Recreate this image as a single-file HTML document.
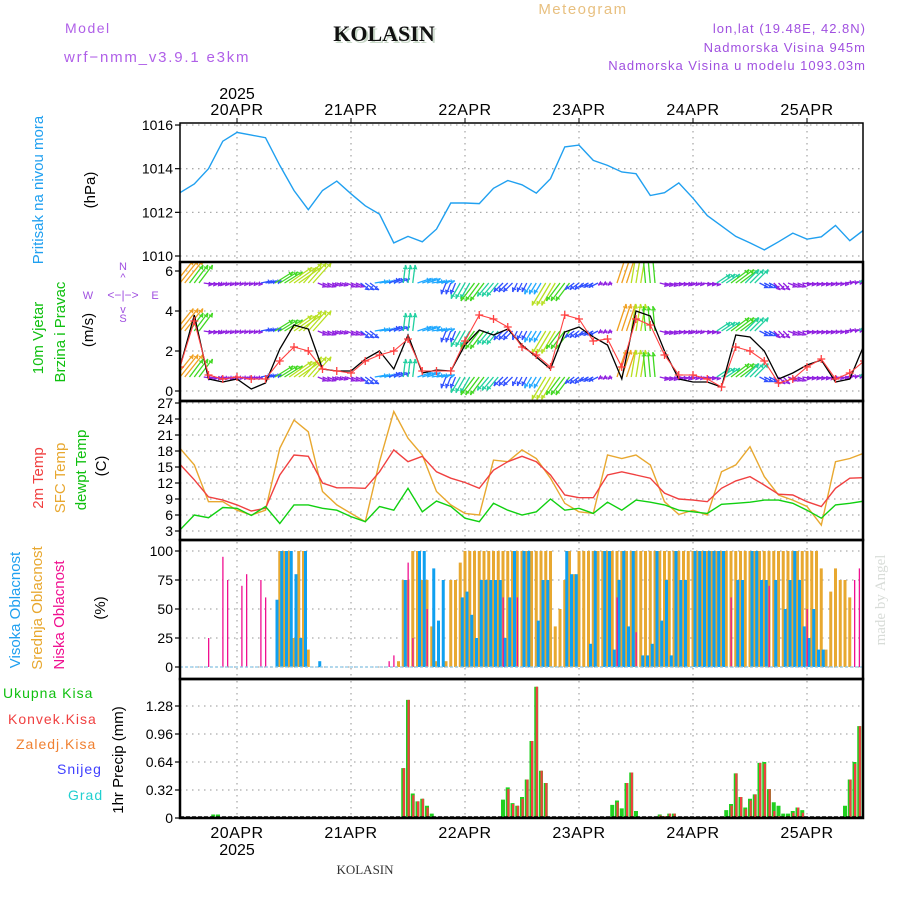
<!DOCTYPE html>
<html><head><meta charset="utf-8"><title>Meteogram KOLASIN</title>
<style>
html,body{margin:0;padding:0;background:#fff;}
#wrap{position:relative;width:900px;height:900px;overflow:hidden;font-family:"Liberation Sans",sans-serif;}
svg text{font-family:"Liberation Sans",sans-serif;}
</style></head>
<body>
<div id="wrap">
<svg id="chart" width="900" height="900" viewBox="0 0 900 900" xmlns="http://www.w3.org/2000/svg">
<defs>
<clipPath id="cp1"><rect x="180" y="123" width="683" height="139"/></clipPath>
<clipPath id="cp2"><rect x="180" y="262" width="683" height="139"/></clipPath>
<clipPath id="cp3"><rect x="180" y="401" width="683" height="139"/></clipPath>
<clipPath id="cp4"><rect x="180" y="540" width="683" height="139"/></clipPath>
<clipPath id="cp5"><rect x="180" y="679" width="683" height="139"/></clipPath>
</defs>
<text x="65" y="33" font-size="14" fill="#b060e8" letter-spacing="1.5">Model</text>
<text x="64" y="62" font-size="15" fill="#b060e8" letter-spacing="1.8">wrf−nmm_v3.9.1 e3km</text>
<text x="386" y="43" font-size="22" font-weight="bold" text-anchor="middle" fill="#c8d8c8" style="font-family:'Liberation Serif',serif">KOLASIN</text>
<text x="384" y="41" font-size="22" font-weight="bold" text-anchor="middle" fill="#111" style="font-family:'Liberation Serif',serif">KOLASIN</text>
<text x="583" y="14" font-size="15" fill="#e8c080" text-anchor="middle" letter-spacing="1.5">Meteogram</text>
<text x="866" y="33" font-size="13" fill="#a050e0" text-anchor="end" letter-spacing="1">lon,lat (19.48E, 42.8N)</text>
<text x="866" y="52" font-size="13" fill="#a050e0" text-anchor="end" letter-spacing="1">Nadmorska Visina 945m</text>
<text x="866" y="70" font-size="13" fill="#a050e0" text-anchor="end" letter-spacing="1">Nadmorska Visina u modelu 1093.03m</text>
<text transform="translate(43,190) rotate(-90)" font-size="15" fill="#20a0f0" text-anchor="middle">Pritisak na nivou mora</text>
<text transform="translate(95,190) rotate(-90)" font-size="15" fill="#000" text-anchor="middle">(hPa)</text>
<text transform="translate(43,338) rotate(-90)" font-size="15" fill="#10c010" text-anchor="middle">10m Vjetar</text>
<text transform="translate(65,332) rotate(-90)" font-size="15" fill="#10c010" text-anchor="middle">Brzina i Pravac</text>
<text transform="translate(93,330) rotate(-90)" font-size="15" fill="#000" text-anchor="middle">(m/s)</text>
<g fill="#a050e0" font-size="11" text-anchor="middle">
<text x="123" y="270">N</text><text x="123" y="281">^</text><text x="123" y="299" font-size="12">&lt;−|−&gt;</text>
<text x="88" y="299">W</text><text x="155" y="299">E</text><text x="123" y="313">v</text><text x="123" y="322">S</text>
</g>
<text transform="translate(43,478) rotate(-90)" font-size="15" fill="#f04040" text-anchor="middle">2m Temp</text>
<text transform="translate(65,478) rotate(-90)" font-size="15" fill="#e8a830" text-anchor="middle">SFC Temp</text>
<text transform="translate(86,470) rotate(-90)" font-size="15" fill="#10c010" text-anchor="middle">dewpt Temp</text>
<text transform="translate(106,466) rotate(-90)" font-size="15" fill="#000" text-anchor="middle">(C)</text>
<text transform="translate(20,610) rotate(-90)" font-size="15" fill="#20a0f0" text-anchor="middle">Visoka Oblacnost</text>
<text transform="translate(42,608) rotate(-90)" font-size="15" fill="#e8a830" text-anchor="middle">Srednja Oblacnost</text>
<text transform="translate(64,615) rotate(-90)" font-size="15" fill="#f01090" text-anchor="middle">Niska Oblacnost</text>
<text transform="translate(105,608) rotate(-90)" font-size="15" fill="#000" text-anchor="middle">(%)</text>
<g font-size="14" letter-spacing="1">
<text x="3" y="698" fill="#10c010">Ukupna Kisa</text>
<text x="8" y="724" fill="#f04040">Konvek.Kisa</text>
<text x="16" y="749" fill="#f08030">Zaledj.Kisa</text>
<text x="57" y="774" fill="#4040ff">Snijeg</text>
<text x="68" y="800" fill="#20d0d0">Grad</text>
</g>
<text transform="translate(123,760) rotate(-90)" font-size="15" fill="#000" text-anchor="middle">1hr Precip (mm)</text>
<text transform="translate(885,600) rotate(-90)" font-size="15" fill="#d8dcd8" text-anchor="middle" style="font-family:'Liberation Serif',serif">made by Angel</text>
<text x="365" y="874" font-size="13" fill="#333" text-anchor="middle" style="font-family:'Liberation Serif',serif">KOLASIN</text>
<g id="grid"></g>
<g id="marks"></g>
<g id="frames"></g>
<g id="labels"></g>
</svg>
</div>
<script>
const dayLabels = ["20APR","21APR","22APR","23APR","24APR","25APR"];
const yearLabel = "2025";
const pressTicks = [1010,1012,1014,1016];
const windTicks = [0,2,4,6];
const tempTicks = [3,6,9,12,15,18,21,24,27];
const cloudTicks = [0,25,50,75,100];
const precipTicks = [0,0.32,0.64,0.96,1.28];
const pressure = [1012.9,1013.3,1014.0,1015.26,1015.66,1015.54,1015.42,1014.15,1013.0,1012.12,1013.0,1013.43,1012.85,1012.3,1011.92,1010.6,1010.9,1010.65,1011.23,1012.43,1012.43,1012.4,1013.1,1013.46,1013.26,1012.88,1013.54,1015.0,1015.08,1014.38,1014.15,1013.85,1013.77,1012.77,1012.9,1013.35,1012.65,1011.85,1011.38,1010.9,1010.6,1010.28,1010.65,1011.05,1010.77,1010.88,1011.4,1010.7,1011.2];
const windSpeed = [1.2,3.8,0.6,0.45,0.6,0.1,0.4,2.1,3.3,3.1,1.1,1.0,1.0,1.6,2.0,1.1,2.8,0.9,1.05,1.0,2.3,3.05,2.8,3.1,2.3,1.7,1.1,2.95,3.2,2.7,2.3,0.6,4.0,3.75,2.0,0.6,0.45,0.45,0.2,2.8,2.7,2.0,0.6,0.9,1.3,1.55,0.45,0.6,2.3];
const windGust = [1.2,3.5,0.8,0.6,0.7,0.6,0.6,1.5,2.2,2.0,1.1,1.0,0.9,1.5,1.8,2.0,2.6,1.0,1.0,1.0,2.5,3.8,3.6,3.2,2.2,1.8,1.2,3.8,3.6,2.5,2.6,1.2,3.6,3.3,1.8,0.8,0.8,0.6,0.2,2.2,2.0,1.5,0.4,0.6,1.2,1.6,0.6,0.9,1.5];
const windU = [4,3,2,1.5,1.5,1.5,2.5,4,5,4,2,1.5,2,2,3,2.5,0.5,3,3,-1,-2,-3,-2.5,-2,-1,-1.5,-3,-3,-2,-2,-1,2,1,-0.5,2,2,1.5,2,3,4,3,2,1.5,2,2,2,2,2,3];
const windV = [5,4,-0.3,-0.3,-0.2,-0.2,0.5,2.5,3.5,4.5,-0.8,-0.5,-0.8,-1.5,0.5,1,4,1,0.5,-2.5,-3.5,-4,-3,-2,-2,-2.5,-5,-4,-1.5,-1,-0.5,6,6,5.5,-0.5,-0.3,-0.3,-0.3,2,3,3,-1,-1.5,-0.8,-0.3,-0.3,-0.2,0.3,3];
const temp2m = [15.5,12.6,9.4,8.8,7.9,6.75,7.25,13.5,17.25,17,12,11.1,11.1,11,14.1,18.2,16,17,14.1,12.9,12.1,11,14.4,16,17,16,13.5,9.75,9.25,9.25,13.5,14.1,13.5,12.9,10.1,9,8.8,8.5,11,12.4,13.2,11.6,9.9,9.75,8.5,7.6,11,12.9,13];
const tempSfc = [18.5,15.4,8.5,8.5,6.9,6,6.9,18.5,23.8,21.6,10.4,7.9,6.3,4.75,16,25.4,20.4,17.25,10.4,7.9,6.3,6,16.3,16,18.2,16.6,12.9,8.2,6.6,6.3,17.25,16.6,17.25,15.4,8.5,6.1,6.9,6,14.1,15.4,18.8,13.2,9.75,8.8,7.6,4.1,16,16.6,17.6];
const dewpt = [3.2,6,5.5,7.4,7.25,5.9,7.6,4.4,7.9,7.9,7.25,6.9,5.7,4.75,7.6,6.9,11,6.6,8.6,7.6,5.4,4.75,8.2,6.9,6,6.6,9,6.9,7.25,6.3,8.4,6.9,8.8,8.4,7.9,6.9,6.6,6.3,8,8.2,8.4,8.8,8.8,8.2,6.9,5.4,7.9,8.2,8.6];
const midCloud = [0,0,0,0,0,0,0,0,0,0,0,0,0,0,0,0,0,0,0,0,0,100,100,100,25,100,100,15,0,0,0,0,0,0,0,0,0,0,0,0,0,0,0,0,0,0,5,75,75,100,100,75,75,35,5,0,5,75,75,90,100,100,100,100,100,100,100,100,100,100,100,100,100,100,100,100,100,100,100,35,50,75,100,80,100,100,100,100,100,100,100,100,100,100,100,100,100,100,100,100,100,100,100,100,100,100,100,100,100,100,100,100,100,100,100,100,100,100,100,100,100,100,100,100,100,100,100,100,100,100,100,100,100,100,100,85,15,65,85,75,75,60,0,0,75];
const highCloud = [0,0,0,0,0,0,0,0,0,0,0,0,0,0,0,0,0,0,0,0,58,100,100,100,80,25,100,0,0,5,0,0,0,0,0,0,0,0,0,0,0,0,0,0,0,0,0,75,0,0,100,100,0,85,40,75,0,0,0,60,65,45,25,75,75,75,75,75,25,60,100,0,100,100,0,40,75,75,0,0,0,100,80,80,0,0,20,100,0,100,100,15,75,100,35,100,0,10,10,20,100,40,75,10,100,75,75,0,100,100,100,100,100,100,100,0,0,75,75,0,100,100,75,75,0,75,0,50,75,100,75,35,25,50,15,15,0,0,0,0,0,0,0,0,0];
const lowHours = [6,9,10,13,14,17,18,44,45,48,49,52,68,71,92,96,116,124,132,142,143];
const lowCloud = [25,95,75,70,80,75,60,5,10,90,25,50,60,60,60,30,60,70,50,75,85];
const rainHours = [7,8,9,47,48,49,50,51,52,53,68,69,70,71,72,73,74,75,76,77,91,92,93,94,95,96,97,100,101,102,103,104,115,116,117,118,119,120,121,122,123,124,125,126,127,128,129,130,131,140,141,142,143,144,145];
const rainTotal = [0.04,0.04,0.01,0.57,1.35,0.28,0.19,0.22,0.14,0.05,0.21,0.35,0.17,0.14,0.24,0.44,0.88,1.50,0.54,0.40,0.15,0.20,0.11,0.40,0.52,0.08,0.01,0.01,0.04,0.02,0.05,0.05,0.09,0.16,0.51,0.24,0.12,0.22,0.27,0.63,0.64,0.33,0.18,0.14,0.05,0.05,0.08,0.12,0.09,0.14,0.44,0.64,1.05,0.69,0.17];
const rainConv = [0,0,0,0.57,1.35,0.26,0.19,0.22,0.12,0,0,0.33,0.16,0.14,0.22,0.44,0.88,1.50,0.54,0.40,0,0.18,0,0.40,0.52,0,0.01,0,0.03,0.02,0.05,0.05,0,0.14,0.51,0.24,0.1,0.2,0.27,0.63,0.62,0.33,0.08,0.02,0,0.02,0.06,0.12,0.06,0,0.44,0.62,1.05,0.69,0.17];

const X0 = 180, X1 = 863, PXH = 4.75;
function xh(i){ return X0 + PXH*i; }
function dayX(d){ return xh(12 + 24*d); }
function yP(v){ return 256 - (v-1010)*21.83; }
function yW(v){ return 391 - v*20; }
function yT(v){ return 531 - (v-3)*5.333; }
function yC(v){ return 667 - v*1.16; }
function yR(v){ return 818 - v*87.5; }
const panels = [{top:123,bot:262,y:yP,ticks:pressTicks,fmt:v=>String(v),name:'pressure'},
  {top:262,bot:401,y:yW,ticks:windTicks,fmt:v=>String(v),name:'wind'},
  {top:401,bot:540,y:yT,ticks:tempTicks,fmt:v=>String(v),name:'temperature'},
  {top:540,bot:679,y:yC,ticks:cloudTicks,fmt:v=>String(v),name:'cloud'},
  {top:679,bot:818,y:yR,ticks:precipTicks,fmt:v=>v===0?'0':v.toFixed(2),name:'precip'}];

const NS='http://www.w3.org/2000/svg';
function mk(tag, attrs, parent){ const e=document.createElementNS(NS,tag); for(const k in attrs) e.setAttribute(k,attrs[k]); parent.appendChild(e); return e; }
const grid=document.getElementById('grid'), marks=document.getElementById('marks'), frames=document.getElementById('frames'), labels=document.getElementById('labels');

panels.forEach((p,pi)=>{
  const g=mk('g',{},grid);
  
  
  p.ticks.forEach(t=>{
    const y=p.y(t);
    if(y>p.top+2 && y<p.bot-2){
      const l=mk('line',{x1:X0,x2:X1,y1:y,y2:y,stroke:'#aaa','stroke-width':1.3,'stroke-dasharray':'1.5,4.5'},g);
      
      
    }
    const tk=mk('line',{x1:X0-5,x2:X0,y1:y,y2:y,stroke:'#000','stroke-width':1.2},labels);
    
    
    const tx=mk('text',{x:X0-7,y:y+5,'font-size':14,'text-anchor':'end',fill:'#000'},labels);
    tx.textContent=p.fmt(t);
    
    
  });
  dayLabels.forEach((d,di)=>{
    const x=dayX(di);
    const l=mk('line',{x1:x,x2:x,y1:p.top+2,y2:p.bot-2,stroke:'#aaa','stroke-width':1.3,'stroke-dasharray':'1.5,4.5'},g);
    
    
  });
  const r=mk('rect',{x:X0,y:p.top,width:X1-X0,height:p.bot-p.top,fill:'none',stroke:'#000','stroke-width':pi===0?1.5:2.5},frames);
  
  
});
dayLabels.forEach((d,di)=>{
  const x=dayX(di);
  const t1=mk('text',{x:x,y:115,'font-size':16,'text-anchor':'middle',fill:'#000','letter-spacing':'0.5'},labels);
  t1.textContent=d;
  
  
  const t2=mk('text',{x:x,y:838,'font-size':16,'text-anchor':'middle',fill:'#000','letter-spacing':'0.5'},labels);
  t2.textContent=d;
  
  
  const tk=mk('line',{x1:x,x2:x,y1:118,y2:123,stroke:'#000','stroke-width':1},labels);
  
  
});
const y1=mk('text',{x:dayX(0),y:99,'font-size':16,'text-anchor':'middle',fill:'#000'},labels);
y1.textContent=yearLabel;


const y2=mk('text',{x:dayX(0),y:855,'font-size':16,'text-anchor':'middle',fill:'#000'},labels);
y2.textContent=yearLabel;



function line(arr, yf, color, clip, name, w){
  const pts=arr.map((v,k)=>xh(3*k).toFixed(1)+','+yf(v).toFixed(1)).join(' ');
  const pl=mk('polyline',{points:pts,fill:'none',stroke:color,'stroke-width':w||1.4,'clip-path':'url(#'+clip+')'},marks);
  
  
}
line(pressure,yP,'#20a0f0','cp1','pressure-line');
function spdColor(s){
  if(s<2.2) return '#9020e0'; if(s<2.9) return '#3050ff'; if(s<3.6) return '#20a8ff';
  if(s<4.6) return '#20d0a0'; if(s<5.6) return '#40d820'; if(s<6.3) return '#b8e020'; return '#f0a020';
}
const wg=mk('g',{'clip-path':'url(#cp2)'},marks);


[283,331,377].forEach(by=>{
  windU.forEach((u,k)=>{
    const v=windV[k], s=Math.hypot(u,v), c=spdColor(s);
    for(let j=0;j<3;j++){
      const x=xh(3*k+j-1), ex=x+u*4.5, ey=by-v*4.5;
      const a=mk('line',{x1:x,y1:by,x2:ex,y2:ey,stroke:c,'stroke-width':1.3},wg);
      
      
      const ang=Math.atan2(ey-by,ex-x);
      const hp=[ex+','+ey,(ex-4*Math.cos(ang-0.5))+','+(ey-4*Math.sin(ang-0.5)),(ex-4*Math.cos(ang+0.5))+','+(ey-4*Math.sin(ang+0.5))].join(' ');
      const h=mk('polyline',{points:hp,fill:'none',stroke:c,'stroke-width':1.2},wg);
      
      
    }
  });
});
line(windSpeed,yW,'#000','cp2','wind-speed-line',1.3);
line(windGust,yW,'#ff4040','cp2','wind-gust-line',1.1);
windGust.forEach((v,k)=>{
  const x=xh(3*k), y=yW(v);
  const m=mk('path',{d:`M${x-4},${y}H${x+4}M${x},${y-4}V${y+4}`,stroke:'#ff4040','stroke-width':1.3,'clip-path':'url(#cp2)'},marks);
  
  
});
line(tempSfc,yT,'#e8a830','cp3','sfc-temp-line');
line(temp2m,yT,'#f04040','cp3','temp-2m-line');
line(dewpt,yT,'#10d010','cp3','dewpoint-line');
midCloud.forEach((v,i)=>{
  if(v<=0) return;
  const r=mk('rect',{x:xh(i)-1.5,y:yC(v),width:3,height:yC(0)-yC(v),fill:'#e8a830','clip-path':'url(#cp4)'},marks);
  
  
});
highCloud.forEach((v,i)=>{
  if(v<=0) return;
  const r=mk('rect',{x:xh(i)+0.5,y:yC(v),width:3,height:yC(0)-yC(v),fill:'#10a0f0','clip-path':'url(#cp4)'},marks);
  
  
});
lowHours.forEach((h,k)=>{
  const v=lowCloud[k];
  const r=mk('rect',{x:xh(h)-0.5,y:yC(v),width:1.3,height:yC(0)-yC(v),fill:'#f01090','clip-path':'url(#cp4)'},marks);
  
  
});
const base=mk('line',{x1:X0,x2:X1,y1:yC(0),y2:yC(0),stroke:'#8cc8e8','stroke-width':1.3,'stroke-dasharray':'3,2'},marks);


rainHours.forEach((h,k)=>{
  const v=rainTotal[k];
  const r=mk('rect',{x:xh(h)-2,y:yR(v),width:4,height:yR(0)-yR(v),fill:'#20d020','clip-path':'url(#cp5)'},marks);
  
  
  const c=rainConv[k];
  if(c>0){
    const r2=mk('rect',{x:xh(h)-0.5,y:yR(c),width:2.2,height:yR(0)-yR(c),fill:'#f04040','clip-path':'url(#cp5)'},marks);
    
    
  }
});
const pb=mk('line',{x1:X0,x2:X1,y1:yR(0)-1,y2:yR(0)-1,stroke:'#000','stroke-width':1.5,'stroke-dasharray':'4,2'},marks);


</script>
</body></html>
